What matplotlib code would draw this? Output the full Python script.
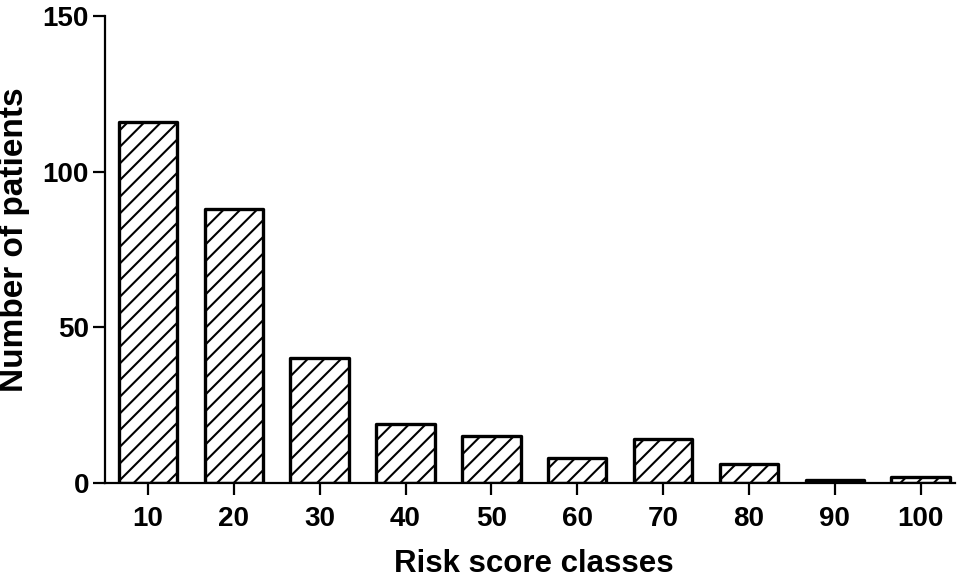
import matplotlib.pyplot as plt
import numpy as np

plt.rcParams['font.family'] = ['Liberation Sans', 'DejaVu Sans']
plt.rcParams['font.weight'] = 'bold'
plt.rcParams['hatch.linewidth'] = 1.5

classes = ['10', '20', '30', '40', '50', '60', '70', '80', '90', '100']
patients = [116, 88, 40, 19, 15, 8, 14, 6, 1, 2]

fig = plt.figure(figsize=(9.66, 5.78), dpi=100)
ax = fig.add_axes([105 / 966, 1 - 483 / 578, 850 / 966, 467 / 578])

x = np.arange(len(classes))
ax.bar(x, patients, width=0.68, color='white', edgecolor='black',
       linewidth=2.4, hatch='//', joinstyle='round')

ax.set_xlim(-0.5, 9.4)
ax.set_ylim(0, 150)
ax.set_yticks([0, 50, 100, 150])
ax.set_xticks(x)
ax.set_xticklabels(classes)

for s in ['top', 'right']:
    ax.spines[s].set_visible(False)
for s in ['left', 'bottom']:
    ax.spines[s].set_linewidth(1.6)

ax.tick_params(axis='both', direction='out', length=8.5, width=1.6, labelsize=20)
ax.tick_params(axis='y', pad=3)
ax.tick_params(axis='x', pad=8)

ax.set_xlabel('Risk score classes', fontsize=22.5, fontweight='bold')
ax.set_ylabel('Number of patients', fontsize=24, fontweight='bold')
ax.xaxis.set_label_coords(0.505, -0.142)
ax.yaxis.set_label_coords(-0.088, 0.52)

fig.savefig('out.png', dpi=100)
